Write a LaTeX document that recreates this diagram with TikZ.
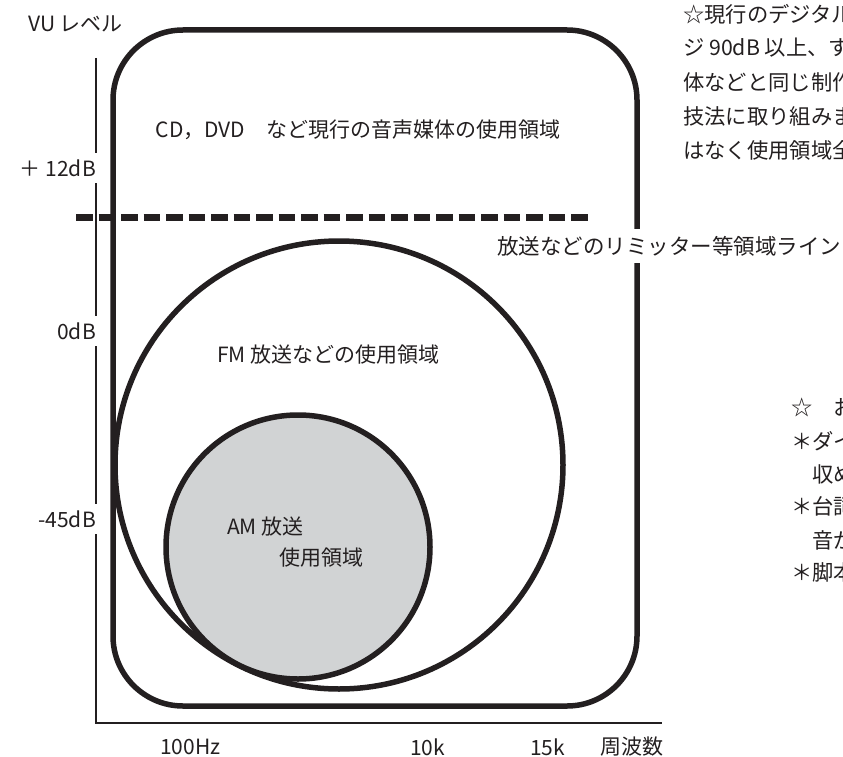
\documentclass[tikz,border=0pt]{standalone}
\usepackage{fontspec}
\setmainfont{Noto Sans CJK JP}
\definecolor{ink}{HTML}{231F20}
\definecolor{amgray}{HTML}{D1D3D4}
\begin{document}
\begin{tikzpicture}[x=1pt,y=-1pt,
  txt/.style={font=\fontsize{21}{25}\selectfont, text=ink, inner sep=0pt},
  note/.style={font=\fontsize{21.3}{25}\selectfont, text=ink, inner sep=0pt, anchor=west},
  axlabel/.style={txt, fill=white, inner xsep=1pt, inner ysep=7pt, anchor=east},
  outline/.style={draw=ink, line width=5.5pt, inner sep=0pt},
  axisline/.style={draw=ink, line width=2pt},
  limitline/.style={draw=ink, line width=7pt, dash pattern=on 16.5pt off 6pt}]
\useasboundingbox (0,0) rectangle (843,757);
\clip (0,0) rectangle (843,757);
% axes
\coordinate (ytop) at (96,58);
\coordinate (orig) at (96,723);
\coordinate (xend) at (662,723);
\draw[axisline] (ytop) -- (orig) -- (xend);
% regions
\node[outline, rectangle, rounded corners=70pt, minimum width=524pt, minimum height=676pt] (cdbox) at (375,368) {};
\node[outline, circle, minimum size=448pt] (fm) at (339,465) {};
\node[outline, circle, fill=amgray, minimum size=264pt] (am) at (298,547) {};
% limiter line
\coordinate (dl) at (76,217);
\coordinate (dr) at (590,217);
\draw[limitline] (dl) -- (dr);
% axis labels
\node[txt, anchor=west] (vu) at (28,24) {VU レベル};
\node[axlabel] (p12) at (97,168) {＋ 12dB};
\node[axlabel] (z0) at (97,331) {0dB};
\node[axlabel] (m45) at (97,519) {-45dB};
\node[txt, anchor=west] (f100) at (160,747) {100Hz};
\node[txt, anchor=west] (f10k) at (410,747) {10k};
\node[txt, anchor=west] (f15k) at (530,747) {15k};
\node[txt, anchor=west] (freq) at (600,747) {周波数};
% region labels
\node[txt] (cdlbl) at (358,130) {CD，DVD　など現行の音声媒体の使用領域};
\node[txt, anchor=west] (fmlbl) at (217,355) {FM 放送などの使用領域};
\node[txt, anchor=west] (amlbl1) at (227,527) {AM 放送};
\node[txt, anchor=west] (amlbl2) at (279,558) {使用領域};
\node[note, font=\fontsize{21.5}{25}\selectfont, fill=white, inner ysep=7pt, inner xsep=2pt] (limlbl) at (495,246) {放送などのリミッター等領域ライン};
% right notes (cut off at the edge)
\node[note] (n1) at (683,14) {☆現行のデジタル録};
\node[note] (n2) at (683,48) {ジ 90dB 以上、すべ};
\node[note] (n3) at (683,82) {体などと同じ制作};
\node[note] (n4) at (683,116) {技法に取り組みま};
\node[note] (n5) at (683,150) {はなく使用領域全};
\node[note] (b1) at (791,407) {☆　お};
\node[note] (b2) at (791,441) {＊ダイ};
\node[note] (b3) at (791,474) {　収め};
\node[note] (b4) at (791,506) {＊台詞};
\node[note] (b5) at (791,540) {　音が};
\node[note] (b6) at (791,572) {＊脚本};
\end{tikzpicture}
\end{document}
